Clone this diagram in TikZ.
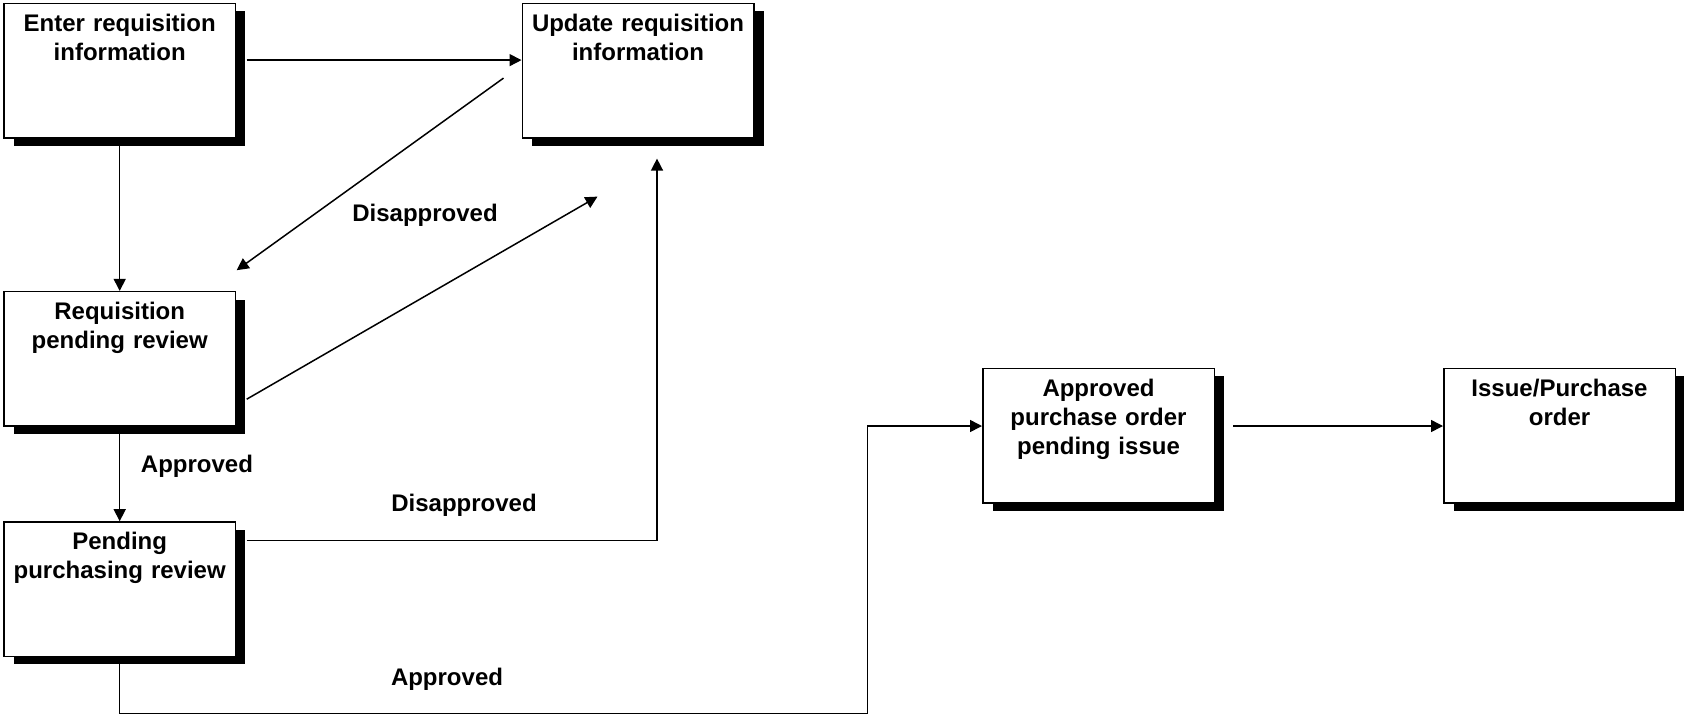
\documentclass[tikz,border=0pt]{standalone}
\usepackage{fontspec}
\setmainfont{Liberation Sans}
\usetikzlibrary{calc,arrows.meta,shadows}
\begin{document}
\begin{tikzpicture}[x=1pt,y=-1pt,
  statebox/.style={draw=black, line width=1.5pt, fill=white,
    minimum width=231.5pt, minimum height=134.5pt, inner sep=0pt,
    drop shadow={shadow xshift=10pt, shadow yshift=-8pt, fill=black, opacity=1}},
  boxtext/.style={anchor=base, text width=228pt, align=center, inner sep=0pt,
    font=\bfseries\fontsize{24}{29}\selectfont},
  lbl/.style={anchor=base, inner sep=0pt, font=\bfseries\fontsize{24}{29}\selectfont},
  arr/.style={line width=1.5pt, -{Triangle[length=12pt,width=12pt]}}]
\useasboundingbox (0,0) rectangle (1684,716);

% states
\node[statebox] (b1) at (119.7,70.6) {};
\node[statebox] (b2) at (638,70.6) {};
\node[statebox] (b3) at (119.7,358.9) {};
\node[statebox] (b4) at (119.7,589.2) {};
\node[statebox] (b5) at (1098.5,435.5) {};
\node[statebox] (b6) at (1559.5,435.5) {};

\node[boxtext] (t1) at ($(b1.north)+(0,28.5)$) {Enter requisition\\information};
\node[boxtext] (t2) at ($(b2.north)+(0,28.5)$) {Update requisition\\information};
\node[boxtext] (t3) at ($(b3.north)+(0,28.5)$) {Requisition\\pending review};
\node[boxtext] (t4) at ($(b4.north)+(0,28.5)$) {Pending\\purchasing review};
\node[boxtext] (t5) at ($(b5.north)+(0,28.5)$) {Approved\\purchase order\\pending issue};
\node[boxtext] (t6) at ($(b6.north)+(0,28.5)$) {Issue/Purchase\\order};

% transitions
\coordinate (s1) at ($(b1.north east)+(10.5,57.5)$);
\draw[arr] (s1) -- (s1 -| b2.west);
\draw[arr] (b1.south) -- (b3.north);
\draw[arr] ($(b2.north west)+(-18,75.5)$) -- ($(b3.north east)+(0.5,-20.7)$);
\draw[arr] ($(b3.north east)+(10.5,108.3)$) -- ($(b2.south west)+(76,58)$);
\draw[arr] (b3.south) -- (b4.north);
\draw[arr] ($(b4.north east)+(10.5,19.3)$) -| ($(b2.south)+(19,20)$);
\coordinate (e5) at ($(b5.west)+(0,-9.5)$);
\draw[arr] (b4.south) -- ++(0,56.3) -| ($(e5)+(-114.4,0)$) -- (e5);
\coordinate (s6) at ($(b5.east)+(18,-9.5)$);
\draw[arr] (s6) -- (s6 -| b6.west);

% labels
\node[lbl] (l1) at (425,221) {Disapproved};
\node[lbl] (l2) at (197,472) {Approved};
\node[lbl] (l3) at (464,511) {Disapproved};
\node[lbl] (l4) at (447,685) {Approved};
\end{tikzpicture}
\end{document}
